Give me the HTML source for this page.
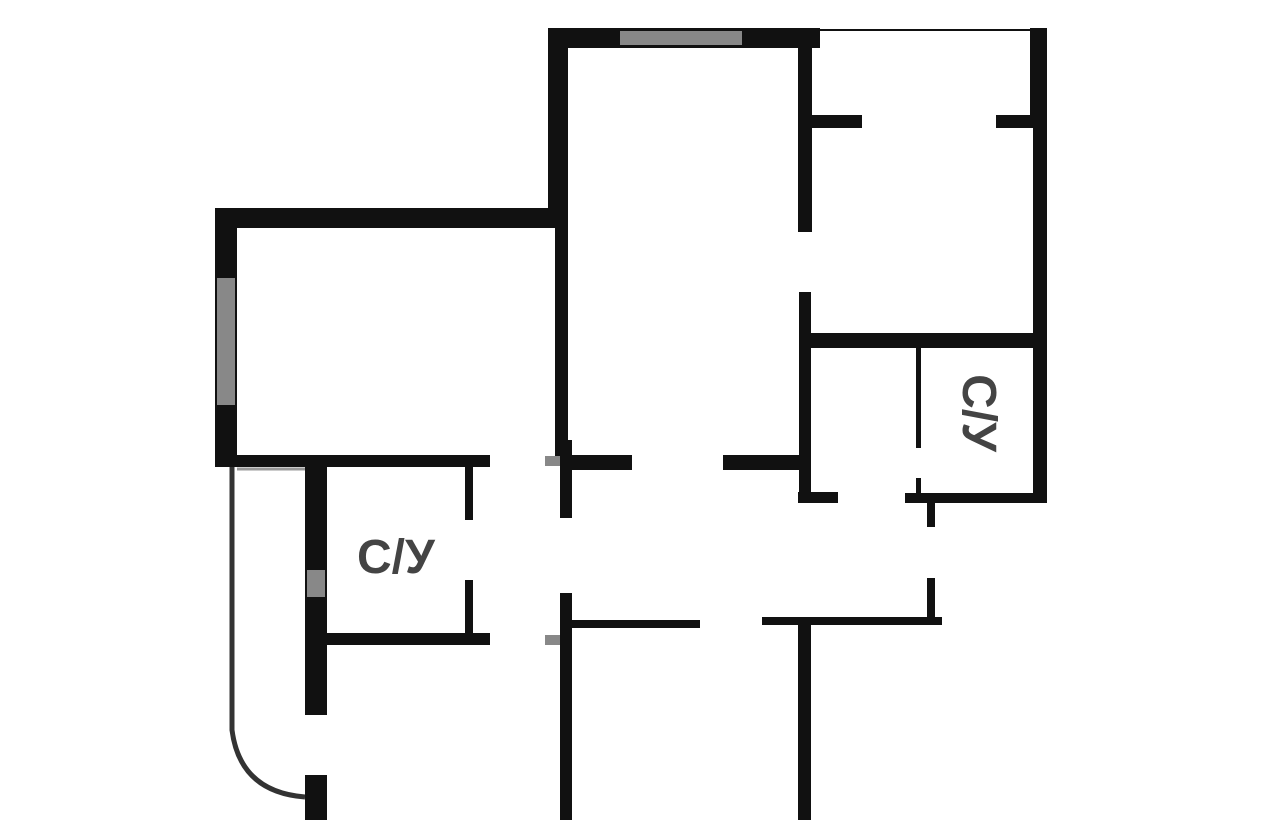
<!DOCTYPE html>
<html><head><meta charset="utf-8"><style>
html,body{margin:0;padding:0;background:#fff;}
#c{position:relative;width:1280px;height:820px;overflow:hidden;background:#fff;}
.w{position:absolute;background:#111;}
.g{position:absolute;background:#888;}
.t{position:absolute;font-family:"Liberation Sans",sans-serif;font-weight:bold;color:#444;font-size:48px;line-height:1;}
</style></head><body><div id="c">
<div class="w" style="left:548px;top:28px;width:272px;height:20px"></div>
<div class="g" style="left:620px;top:31px;width:122px;height:14px"></div>
<div class="w" style="left:548px;top:28px;width:20px;height:200px"></div>
<div class="w" style="left:215px;top:208px;width:345px;height:20px"></div>
<div class="w" style="left:215px;top:208px;width:22px;height:258px"></div>
<div class="g" style="left:217px;top:278px;width:18px;height:127px"></div>
<div class="w" style="left:215px;top:455px;width:275px;height:12px"></div>
<div class="w" style="left:555px;top:228px;width:13px;height:232px"></div>
<div class="w" style="left:560px;top:440px;width:12px;height:78px"></div>
<div class="g" style="left:545px;top:456px;width:15px;height:10px"></div>
<div class="w" style="left:560px;top:455px;width:72px;height:15px"></div>
<div class="w" style="left:723px;top:455px;width:77px;height:15px"></div>
<div class="w" style="left:798px;top:40px;width:14px;height:192px"></div>
<div class="w" style="left:799px;top:292px;width:12px;height:211px"></div>
<div class="w" style="left:820px;top:29px;width:210px;height:2px"></div>
<div class="w" style="left:1030px;top:28px;width:17px;height:97px"></div>
<div class="w" style="left:1033px;top:120px;width:14px;height:383px"></div>
<div class="w" style="left:812px;top:115px;width:50px;height:13px"></div>
<div class="w" style="left:996px;top:115px;width:44px;height:13px"></div>
<div class="w" style="left:805px;top:333px;width:235px;height:15px"></div>
<div class="w" style="left:916px;top:348px;width:5px;height:100px"></div>
<div class="w" style="left:916px;top:478px;width:5px;height:15px"></div>
<div class="w" style="left:798px;top:492px;width:40px;height:11px"></div>
<div class="w" style="left:905px;top:493px;width:142px;height:10px"></div>
<div class="t" style="left:930px;top:389px;transform:rotate(90deg);width:96px;text-align:center">С/У</div>
<div class="w" style="left:927px;top:493px;width:8px;height:34px"></div>
<div class="w" style="left:927px;top:578px;width:8px;height:46px"></div>
<div class="w" style="left:762px;top:617px;width:180px;height:8px"></div>
<div class="w" style="left:798px;top:620px;width:13px;height:200px"></div>
<div class="w" style="left:560px;top:593px;width:12px;height:227px"></div>
<div class="w" style="left:570px;top:620px;width:130px;height:8px"></div>
<div class="g" style="left:545px;top:635px;width:15px;height:10px"></div>
<div class="w" style="left:305px;top:455px;width:22px;height:260px"></div>
<div class="g" style="left:307px;top:570px;width:18px;height:27px"></div>
<div class="w" style="left:465px;top:467px;width:8px;height:53px"></div>
<div class="w" style="left:465px;top:580px;width:8px;height:55px"></div>
<div class="w" style="left:327px;top:633px;width:163px;height:12px"></div>
<div class="t" style="left:357px;top:534px">С/У</div>
<div class="w" style="left:305px;top:775px;width:22px;height:45px"></div>
<svg style="position:absolute;left:0;top:0" width="1280" height="820">
<path d="M232 467 L232 730 Q240 792 305 797" fill="none" stroke="#333" stroke-width="5"/>
<line x1="237" y1="469" x2="305" y2="469" stroke="#999" stroke-width="3"/>
</svg>
</div></body></html>
